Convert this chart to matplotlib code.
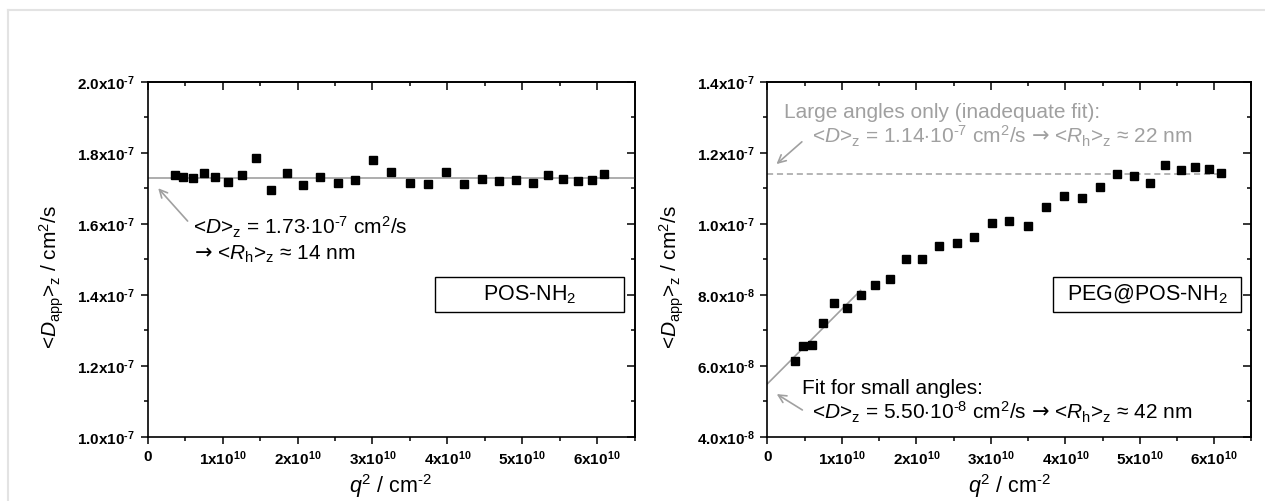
import numpy as np
import matplotlib
matplotlib.use('Agg')
import matplotlib.pyplot as plt
from matplotlib.lines import Line2D
from matplotlib.patches import Rectangle
from matplotlib.ticker import MultipleLocator, FuncFormatter

plt.rcParams['font.family'] = ['Liberation Sans', 'DejaVu Sans']
plt.rcParams['mathtext.fontset'] = 'custom'
plt.rcParams['mathtext.rm'] = 'Liberation Sans'
plt.rcParams['mathtext.it'] = 'Liberation Sans:italic'
plt.rcParams['mathtext.bf'] = 'Liberation Sans:bold'
plt.rcParams['mathtext.sf'] = 'DejaVu Sans'

# q^2 in cm^-2 (same scattering angles for both samples)
q2 = np.array([0.366, 0.475, 0.60, 0.75, 0.90, 1.07, 1.26, 1.45, 1.65, 1.86,
               2.07, 2.30, 2.54, 2.77, 3.01, 3.25, 3.50, 3.74, 3.98, 4.22,
               4.46, 4.69, 4.92, 5.14, 5.34, 5.55, 5.74, 5.93, 6.09]) * 1e10

# <D_app>_z in cm^2/s
d_pos = np.array([17.38, 17.33, 17.30, 17.42, 17.33, 17.17, 17.38, 17.85, 16.94, 17.42,
                  17.09, 17.32, 17.16, 17.24, 17.80, 17.46, 17.14, 17.11, 17.46, 17.13,
                  17.25, 17.21, 17.24, 17.15, 17.37, 17.25, 17.21, 17.22, 17.41]) * 1e-8
d_peg = np.array([6.13, 6.55, 6.60, 7.21, 7.77, 7.62, 8.00, 8.29, 8.45, 9.02,
                  9.02, 9.38, 9.46, 9.62, 10.01, 10.07, 9.95, 10.48, 10.77, 10.72,
                  11.03, 11.40, 11.35, 11.16, 11.66, 11.51, 11.59, 11.53, 11.42]) * 1e-8

# fit results
d0_pos = 1.73e-7
d0_peg_small = 5.50e-8
slope_peg_small = 2.1e-18
q2_small_max = 1.25e10
d0_peg_large = 1.14e-7
q2_large_max = 6.15e10

gray = '#a0a0a0'
HY = '\u2010'  # short hyphen for exponents
ARR = '$\\mathsf{\u2192}$'
FS = 15


def ylab(v, pos):
    m, e = ('%.1e' % v).split('e')
    return r'$\mathbf{%sx10^{%s%d}}$' % (m, HY, -int(e))


def xlab(v, pos):
    if v == 0:
        return r'$\mathbf{0}$'
    m, e = ('%.0e' % v).split('e')
    return r'$\mathbf{%sx10^{%d}}$' % (m, int(e))


def style(ax, ymin, ymax, ymaj):
    ax.set_xlim(0, 6.5e10)
    ax.set_ylim(ymin, ymax)
    ax.xaxis.set_major_locator(MultipleLocator(1e10))
    ax.xaxis.set_minor_locator(MultipleLocator(0.5e10))
    ax.yaxis.set_major_locator(MultipleLocator(ymaj))
    ax.yaxis.set_minor_locator(MultipleLocator(ymaj / 2))
    ax.xaxis.set_major_formatter(FuncFormatter(xlab))
    ax.yaxis.set_major_formatter(FuncFormatter(ylab))
    ax.tick_params(which='both', direction='out', top=False, right=False, labelsize=11, width=1.1)
    ax.tick_params(which='major', length=5, pad=4)
    ax.tick_params(which='minor', length=3)
    ax2 = ax.secondary_xaxis('top')
    ax2.xaxis.set_major_locator(MultipleLocator(1e10))
    ax2.xaxis.set_minor_locator(MultipleLocator(0.5e10))
    ax2.tick_params(which='both', direction='in', labeltop=False, width=1.1)
    ax2.tick_params(which='major', length=5.5)
    ax2.tick_params(which='minor', length=3)
    ay2 = ax.secondary_yaxis('right')
    ay2.yaxis.set_major_locator(MultipleLocator(ymaj))
    ay2.yaxis.set_minor_locator(MultipleLocator(ymaj / 2))
    ay2.tick_params(which='both', direction='in', labelright=False, width=1.1)
    ay2.tick_params(which='major', length=5.5)
    ay2.tick_params(which='minor', length=3)
    for s in ax.spines.values():
        s.set_linewidth(1.2)
    ax2.spines['top'].set_linewidth(1.2)
    ay2.spines['right'].set_linewidth(1.2)
    ax.set_xlabel(r'$\mathit{q}^2$ / cm$^{%s2}$' % HY, fontsize=15.5, labelpad=3)
    ax.set_ylabel(r'<$\mathit{D}_\mathrm{app}$>$_\mathrm{z}$ / cm$^2$/s', fontsize=15)
    ax.yaxis.set_label_coords(-0.168, 0.45)


def label_box(ax, txt):
    ax.add_patch(Rectangle((0.59, 0.352), 0.388, 0.0985, transform=ax.transAxes,
                           facecolor='white', edgecolor='black', lw=1.0, zorder=4))
    ax.text(0.784, 0.401, txt, transform=ax.transAxes, ha='center', va='center',
            fontsize=15.5, zorder=5)


fig = plt.figure(figsize=(12.65, 5.01), dpi=100)
ax1 = fig.add_axes([0.1168, 0.1277, 0.3848, 0.7092])
ax2 = fig.add_axes([0.6067, 0.1277, 0.3826, 0.7092])

# frame lines on the page
fig.add_artist(Line2D([8 / 1265, 1], [1 - 10 / 501] * 2, color='#e3e3e3', lw=1.5))
fig.add_artist(Line2D([8 / 1265] * 2, [0, 1 - 10 / 501], color='#e3e3e3', lw=1.5))

# POS-NH2
style(ax1, 1.0e-7, 2.0e-7, 0.2e-7)
ax1.plot([0, 6.5e10], [d0_pos, d0_pos], color=gray, lw=1.2, zorder=2)
ax1.plot(q2, d_pos, 's', color='black', ms=5.2, zorder=3)
ax1.annotate('', xy=(0.115e10, 1.706e-7), xytext=(0.557e10, 1.602e-7),
             arrowprops=dict(arrowstyle='->', color=gray, lw=1.2, mutation_scale=14))
ax1.text(0.60e10, 1.569e-7, r'<$\mathit{D}$>$_\mathrm{z}$ = 1.73$\cdot$10$^{%s7}$ cm$^2$/s' % HY,
         fontsize=FS, ha='left', va='baseline')
ax1.text(0.62e10, 1.498e-7, ARR + r' <$\mathit{R}_\mathrm{h}$>$_\mathrm{z}$ ≈ 14 nm',
         fontsize=FS, ha='left', va='baseline')
label_box(ax1, r'POS-NH$_2$')

# PEG@POS-NH2
style(ax2, 4.0e-8, 1.4e-7, 2.0e-8)
ax2.plot([0, q2_large_max], [d0_peg_large, d0_peg_large], color=gray, lw=1.1,
         dashes=(4, 2.5), zorder=2)
xf = np.array([0, q2_small_max])
ax2.plot(xf, d0_peg_small + slope_peg_small * xf, color=gray, lw=1.2, zorder=2)
ax2.plot(q2, d_peg, 's', color='black', ms=5.2, zorder=3)
ax2.text(0.22e10, 1.297e-7, 'Large angles only (inadequate fit):', color=gray,
         fontsize=FS, ha='left', va='baseline')
ax2.text(0.60e10, 1.225e-7,
         r'<$\mathit{D}$>$_\mathrm{z}$ = 1.14$\cdot$10$^{%s7}$ cm$^2$/s ' % HY + ARR
         + r' <$\mathit{R}_\mathrm{h}$>$_\mathrm{z}$ ≈ 22 nm',
         color=gray, fontsize=FS, ha='left', va='baseline')
ax2.annotate('', xy=(0.093e10, 1.163e-7), xytext=(0.49e10, 1.236e-7),
             arrowprops=dict(arrowstyle='->', color=gray, lw=1.2, mutation_scale=14))
ax2.text(0.46e10, 5.20e-8, 'Fit for small angles:', fontsize=FS, ha='left', va='baseline')
ax2.text(0.60e10, 4.50e-8,
         r'<$\mathit{D}$>$_\mathrm{z}$ = 5.50$\cdot$10$^{%s8}$ cm$^2$/s ' % HY + ARR
         + r' <$\mathit{R}_\mathrm{h}$>$_\mathrm{z}$ ≈ 42 nm',
         fontsize=FS, ha='left', va='baseline')
ax2.annotate('', xy=(0.093e10, 5.25e-8), xytext=(0.50e10, 4.72e-8),
             arrowprops=dict(arrowstyle='->', color=gray, lw=1.2, mutation_scale=14))
label_box(ax2, r'PEG@POS-NH$_2$')

fig.savefig('out.png', dpi=100)
